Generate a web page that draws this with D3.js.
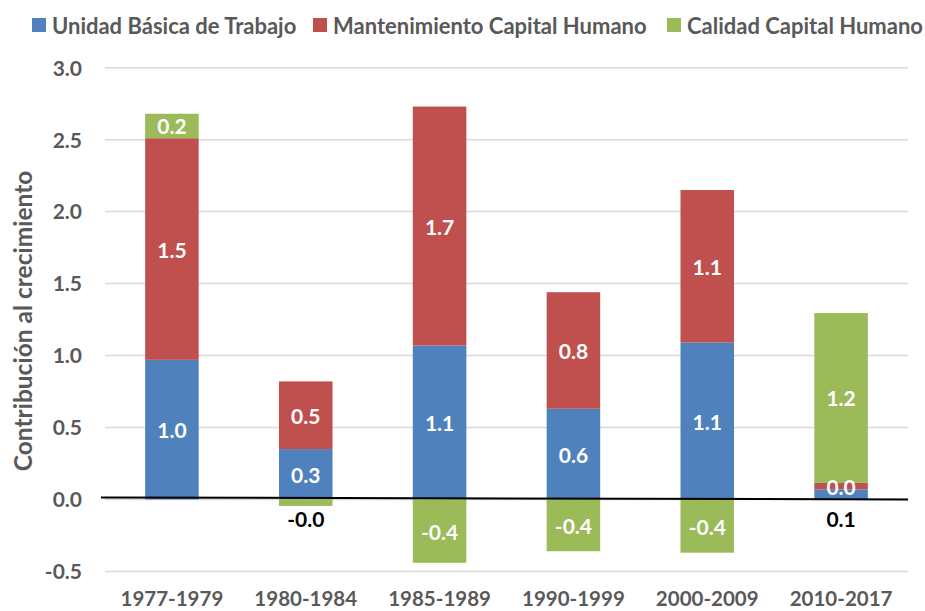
<!DOCTYPE html>
<html>
<head>
<meta charset="utf-8">
<script src="https://cdn.jsdelivr.net/npm/d3@7"></script>
<style>
  html, body { margin: 0; padding: 0; background: #fff; }
  svg { display: block; font-family: Lato, "Open Sans", sans-serif; }
</style>
</head>
<body>
<svg id="chart" width="925" height="611"></svg>
<script>
// ---- data ----
const categories = ["1977-1979", "1980-1984", "1985-1989", "1990-1999", "2000-2009", "2010-2017"];
const seriesNames = ["Unidad Básica de Trabajo", "Mantenimiento Capital Humano", "Calidad Capital Humano"];
const unidadBasica = [0.97, 0.35, 1.07, 0.63, 1.09, 0.07];
const mantenimiento = [1.54, 0.47, 1.66, 0.81, 1.06, 0.045];
const calidad = [0.17, -0.045, -0.44, -0.36, -0.37, 1.18];
const yTicks = [-0.5, 0.0, 0.5, 1.0, 1.5, 2.0, 2.5, 3.0];
const yTitle = "Contribución al crecimiento";
// labels drawn outside their (too small) segment, in black
const outsideLabels = [[0, 5], [2, 1]]; // [seriesIndex, categoryIndex]

const colors = ["#4F81BD", "#C0504D", "#9BBB59"];
const textGrey = "#595959";

const svg = d3.select("#chart");
const plot = { left: 105, right: 908, top: 67.7, bottom: 571.4 };

const x = d3.scaleBand().domain(categories).range([plot.left, plot.right])
  .paddingInner(0.6).paddingOuter(0.3);
const y = d3.scaleLinear().domain([-0.5, 3.0]).range([plot.bottom, plot.top]);

// gridlines
svg.append("g").selectAll("line").data(yTicks).join("line")
  .attr("x1", plot.left).attr("x2", plot.right)
  .attr("y1", d => y(d)).attr("y2", d => y(d))
  .attr("stroke", "#D9D9D9").attr("stroke-width", 1.5);

// y axis labels
const fmt = v => (v < 0 ? "-" : "") + Math.abs(v).toFixed(1);
const yAxis = d3.axisLeft(y).tickValues(yTicks).tickSize(0).tickPadding(0).tickFormat(fmt);
const yg = svg.append("g").attr("transform", `translate(82,0)`).call(yAxis);
yg.select(".domain").remove();
yg.selectAll("text").attr("fill", textGrey).attr("font-size", 21).attr("font-weight", 700)
  .attr("font-family", "Lato, sans-serif").attr("dy", "0.35em");

// y title
svg.append("text")
  .attr("transform", `translate(22, 321) rotate(-90)`)
  .attr("text-anchor", "middle").attr("dominant-baseline", "central")
  .attr("fill", textGrey).attr("font-size", 24.5).attr("font-weight", 700)
  .text(yTitle);

// stacked segments (positive stack upwards, negative downwards)
const seriesData = [unidadBasica, mantenimiento, calidad];
const segments = [];
categories.forEach((c, ci) => {
  let pos = 0, neg = 0;
  seriesData.forEach((arr, si) => {
    const v = arr[ci];
    let y0, y1;
    if (v >= 0) { y0 = pos; y1 = pos + v; pos = y1; }
    else { y0 = neg; y1 = neg + v; neg = y1; }
    segments.push({ c, ci, si, v, y0, y1 });
  });
});

svg.append("g").selectAll("rect").data(segments).join("rect")
  .attr("x", d => x(d.c))
  .attr("width", x.bandwidth())
  .attr("y", d => y(Math.max(d.y0, d.y1)))
  .attr("height", d => Math.abs(y(d.y0) - y(d.y1)))
  .attr("fill", d => colors[d.si]);

// zero line (slightly sloped as in the original)
svg.append("line")
  .attr("x1", plot.left - 4).attr("x2", plot.right)
  .attr("y1", y(0) - 2).attr("y2", y(0))
  .attr("stroke", "#000").attr("stroke-width", 2);

// data labels
const isOutside = d => outsideLabels.some(o => o[0] === d.si && o[1] === d.ci);
svg.append("g").selectAll("text").data(segments).join("text")
  .attr("x", d => x(d.c) + x.bandwidth() / 2)
  .attr("y", d => isOutside(d) ? y(0) + 19 : y((d.y0 + d.y1) / 2))
  .attr("text-anchor", "middle").attr("dominant-baseline", "central")
  .attr("font-size", 21).attr("font-weight", 700)
  .attr("fill", d => isOutside(d) ? "#000" : "#fff")
  .text(d => fmt(d.v));

// x category labels
svg.append("g").selectAll("text").data(categories).join("text")
  .attr("x", d => x(d) + x.bandwidth() / 2)
  .attr("y", 606)
  .attr("text-anchor", "middle")
  .attr("fill", textGrey).attr("font-size", 20.5).attr("font-weight", 700)
  .text(d => d);

// legend
const legend = svg.append("g");
const legendX = [32, 313, 667];
seriesNames.forEach((name, i) => {
  legend.append("rect").attr("x", legendX[i]).attr("y", 18).attr("width", 14).attr("height", 14)
    .attr("fill", colors[i]);
  legend.append("text").attr("x", legendX[i] + 20).attr("y", 25)
    .attr("dominant-baseline", "central")
    .attr("fill", textGrey).attr("font-size", 22).attr("font-weight", 700)
    .text(name);
});
</script>
</body>
</html>
